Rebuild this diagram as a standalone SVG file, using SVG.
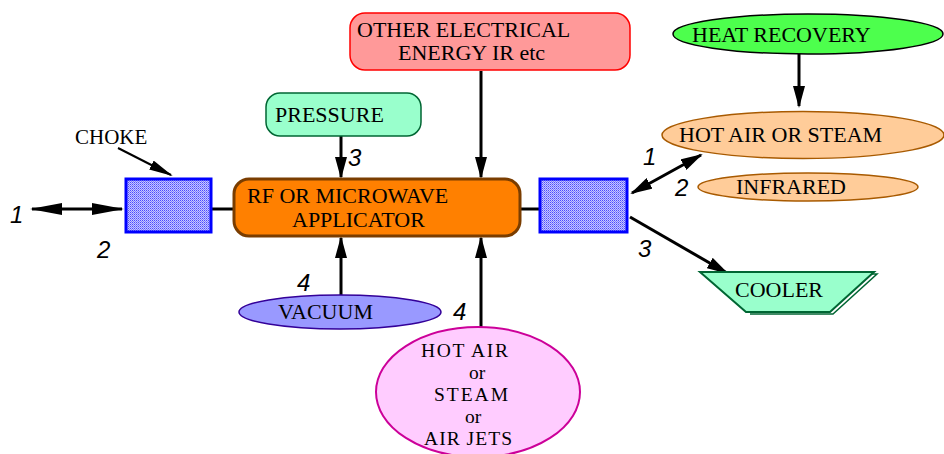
<svg xmlns="http://www.w3.org/2000/svg" width="944" height="454" viewBox="0 0 944 454">
<style>
.t{font-family:"Liberation Serif","Times New Roman",serif;font-size:22px;fill:#000}
.s{font-size:19.5px}
.n{font-family:"Liberation Sans",Arial,sans-serif;font-size:24px;font-style:italic;fill:#000}
.c{stroke:#000;stroke-width:3;fill:none}
.choke{fill:url(#dots);stroke:#0000ff;stroke-width:3}
</style>
<defs>
<pattern id="dots" width="2" height="2" patternUnits="userSpaceOnUse">
<rect width="2" height="2" fill="#c8c8ff"/>
<rect width="1" height="1" fill="#4a4aff"/>
<rect x="1" y="1" width="1" height="1" fill="#8080ff"/>
</pattern>
<marker id="ah" viewBox="0 0 22 12" markerWidth="22" markerHeight="12" refX="20" refY="6" orient="auto-start-reverse" markerUnits="userSpaceOnUse">
<path d="M0,0 L22,6 L0,12 Z" fill="#000"/>
</marker>
<marker id="ahl" viewBox="0 0 32 12" markerWidth="32" markerHeight="12" refX="30" refY="6" orient="auto-start-reverse" markerUnits="userSpaceOnUse">
<path d="M0,0 L32,6 L0,12 Z" fill="#000"/>
</marker>
<marker id="ahs" viewBox="0 0 24 10" markerWidth="24" markerHeight="10" refX="22" refY="5" orient="auto" markerUnits="userSpaceOnUse">
<path d="M0,0 L24,5 L0,10 Z" fill="#000"/>
</marker>
</defs>
<rect width="944" height="454" fill="#fff"/>

<g id="connectors">
<line class="c" x1="211" y1="209" x2="234" y2="209"/>
<line class="c" x1="519" y1="209" x2="540" y2="209"/>
<line class="c" x1="32" y1="209" x2="122" y2="209" marker-start="url(#ahl)" marker-end="url(#ahl)"/>
<line x1="118" y1="148" x2="171" y2="175" stroke="#000" stroke-width="2" marker-end="url(#ahs)"/>
<line class="c" x1="341" y1="136" x2="341" y2="177" marker-end="url(#ah)"/>
<line class="c" x1="481" y1="71" x2="481" y2="177" marker-end="url(#ah)"/>
<line class="c" x1="341" y1="295" x2="341" y2="238" marker-end="url(#ah)"/>
<line class="c" x1="481" y1="327" x2="481" y2="238" marker-end="url(#ah)"/>
<line class="c" x1="799" y1="54" x2="799" y2="106" marker-end="url(#ah)"/>
<line class="c" x1="632" y1="193" x2="701" y2="155" marker-start="url(#ah)" marker-end="url(#ah)"/>
<line class="c" x1="630" y1="217" x2="727" y2="273" marker-end="url(#ah)"/>
<text class="n" x="10" y="223">1</text>
<text class="n" x="97" y="258">2</text>
<text class="n" x="348" y="166">3</text>
<text class="n" x="297" y="291">4</text>
<text class="n" x="453" y="320">4</text>
<text class="n" x="643" y="165">1</text>
<text class="n" x="675" y="196">2</text>
<text class="n" x="638" y="257">3</text>
</g>

<g id="choke-label"><text class="t" x="75" y="144" style="font-size:21px">CHOKE</text></g>
<g id="choke-left"><rect class="choke" x="126" y="179" width="85" height="53"/></g>
<g id="choke-right"><rect class="choke" x="540" y="179" width="87" height="53"/></g>

<g id="applicator">
<rect x="234" y="179" width="286" height="57" rx="15" fill="#ff8000" stroke="#7a3d00" stroke-width="3"/>
<text class="t" x="247" y="203">RF OR MICROWAVE</text>
<text class="t" x="292" y="227">APPLICATOR</text>
</g>

<g id="pressure">
<rect x="266" y="93" width="155" height="43" rx="14" fill="#99ffcc" stroke="#006633" stroke-width="1.5"/>
<text class="t" x="275" y="122">PRESSURE</text>
</g>

<g id="other-electrical">
<rect x="350" y="13" width="280" height="57" rx="15" fill="#ff9999" stroke="#ff0000" stroke-width="1.5"/>
<text class="t" x="357" y="37">OTHER ELECTRICAL</text>
<text class="t" x="398" y="60">ENERGY IR etc</text>
</g>

<g id="vacuum">
<ellipse cx="340" cy="312" rx="101" ry="17" fill="#9999ff" stroke="#330099" stroke-width="1.5"/>
<text class="t" x="278" y="319">VACUUM</text>
</g>

<g id="hot-air-jets">
<ellipse cx="478" cy="392" rx="102" ry="65" fill="#ffccff" stroke="#cc0099" stroke-width="2"/>
<text class="t s" x="421" y="357" textLength="87">HOT AIR</text>
<text class="t s" x="469" y="379">or</text>
<text class="t s" x="434" y="401" textLength="74">STEAM</text>
<text class="t s" x="465" y="423">or</text>
<text class="t s" x="424" y="445" textLength="88">AIR JETS</text>
</g>

<g id="heat-recovery">
<ellipse cx="808" cy="34" rx="135" ry="20" fill="#4dff4d" stroke="#000" stroke-width="1.5"/>
<text class="t" x="692" y="42">HEAT RECOVERY</text>
</g>

<g id="hot-air-steam">
<ellipse cx="803" cy="135" rx="141" ry="23.5" fill="#ffcc99" stroke="#a85a00" stroke-width="1.5"/>
<text class="t" x="679" y="142">HOT AIR OR STEAM</text>
</g>

<g id="infrared">
<ellipse cx="808" cy="187" rx="110" ry="14" fill="#ffcc99" stroke="#a85a00" stroke-width="1.5"/>
<text class="t" x="736" y="194">INFRARED</text>
</g>

<g id="cooler">
<polyline points="862,274 877,274 833,314 750,314" fill="none" stroke="#006633" stroke-width="1.5"/>
<polygon points="700,272 874,272 830,312 746,312" fill="#99ffcc" stroke="#006633" stroke-width="2"/>
<text class="t" x="735" y="297">COOLER</text>
</g>
</svg>
